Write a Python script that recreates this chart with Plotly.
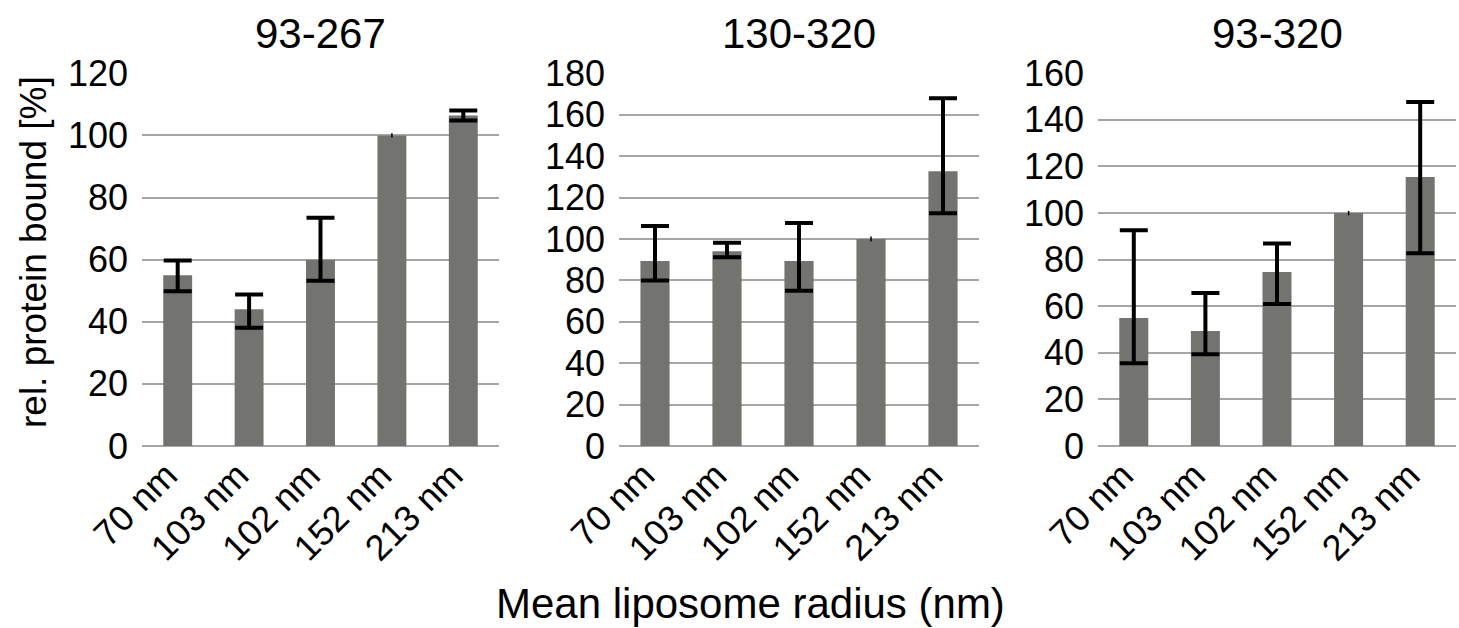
import plotly.graph_objects as go

W, H = 1459, 628

categories = ["70 nm", "103 nm", "102 nm", "152 nm", "213 nm"]
titles = ["93-267", "130-320", "93-320"]

vals_93_267 = [55, 44, 60, 100, 106.4]
errp_93_267 = [4.7, 4.8, 13.5, 0.7, 1.6]
errm_93_267 = [5.2, 5.9, 6.8, 0.7, 1.6]

vals_130_320 = [89.4, 94, 89.4, 100, 132.7]
errp_130_320 = [16.9, 4.2, 18.3, 1.2, 35.2]
errm_130_320 = [9.5, 2.9, 14.4, 1.2, 20.3]

vals_93_320 = [55, 49.4, 74.7, 100, 115.5]
errp_93_320 = [37.6, 16.3, 12.2, 0.9, 32.2]
errm_93_320 = [19.5, 10.0, 13.7, 0.9, 32.8]

y_max = [120, 180, 160]
ref_index = 3  # reference bar (100 %)

panels = [
    (vals_93_267, errp_93_267, errm_93_267),
    (vals_130_320, errp_130_320, errm_130_320),
    (vals_93_320, errp_93_320, errm_93_320),
]

# layout geometry (pixels)
x_dom_px = [(142, 499), (619, 979), (1098, 1456)]
y_top_px, y_bot_px = 73.3, 446

BAR = "#737370"
GRID = "#a6a6a6"
FONT = "Liberation Sans, Arial, sans-serif"
TICK = 36

fig = go.Figure()
for i, (vals, ep, em) in enumerate(panels):
    xa = "x" if i == 0 else f"x{i+1}"
    ya = "y" if i == 0 else f"y{i+1}"
    fig.add_trace(go.Bar(x=categories, y=vals, marker_color=BAR, marker_line_width=0,
                         xaxis=xa, yaxis=ya, showlegend=False, hoverinfo="skip"))
    idx = [k for k in range(len(categories)) if k != ref_index]
    fig.add_trace(go.Scatter(
        x=[categories[k] for k in idx], y=[vals[k] for k in idx], mode="markers",
        marker=dict(opacity=0, size=1), xaxis=xa, yaxis=ya, showlegend=False, hoverinfo="skip",
        error_y=dict(type="data", symmetric=False, array=[ep[k] for k in idx],
                     arrayminus=[em[k] for k in idx], color="black", thickness=4, width=14)))
    fig.add_trace(go.Scatter(
        x=[categories[ref_index]], y=[vals[ref_index]], mode="markers",
        marker=dict(opacity=0, size=1), xaxis=xa, yaxis=ya, showlegend=False, hoverinfo="skip",
        error_y=dict(type="data", symmetric=False, array=[ep[ref_index]],
                     arrayminus=[em[ref_index]], color="black", thickness=1.5, width=0)))

layout = dict(
    width=W, height=H, margin=dict(l=0, r=0, t=0, b=0, autoexpand=False),
    paper_bgcolor="white", plot_bgcolor="white",
    barmode="overlay", bargap=0.595,
    font=dict(family=FONT, color="black", size=TICK),
    showlegend=False,
)
ydom = [1 - y_bot_px / H, 1 - y_top_px / H]
annotations = []
for i in range(3):
    sfx = "" if i == 0 else str(i + 1)
    x0, x1 = x_dom_px[i]
    layout["xaxis" + sfx] = dict(
        domain=[x0 / W, x1 / W], anchor="y" + sfx, type="category", automargin=False,
        showgrid=False, zeroline=False, showline=False, ticks="",
        tickangle=-45, ticklabelshift=-11, tickfont=dict(size=TICK, family=FONT, color="black"),
        fixedrange=True,
    )
    layout["yaxis" + sfx] = dict(
        domain=ydom, anchor="x" + sfx, range=[0, y_max[i]], dtick=20, automargin=False,
        showgrid=True, gridcolor=GRID, gridwidth=2, zeroline=True, zerolinecolor=GRID,
        zerolinewidth=2, showline=False, ticks="", ticklabelstandoff=13,
        tickfont=dict(size=TICK, family=FONT, color="black"), fixedrange=True,
    )
    annotations.append(dict(
        text=titles[i], xref="paper", yref="paper", x=(x0 + x1) / 2 / W, y=1 - 33 / H,
        xanchor="center", yanchor="middle", showarrow=False,
        font=dict(size=42, family=FONT, color="black")))

annotations.append(dict(
    text="rel. protein bound [%]", xref="paper", yref="paper", x=33 / W, y=1 - 252 / H,
    xanchor="center", yanchor="middle", textangle=-90, showarrow=False,
    font=dict(size=37, family=FONT, color="black")))
annotations.append(dict(
    text="Mean liposome radius (nm)", xref="paper", yref="paper", x=751 / W, y=1 - 603 / H,
    xanchor="center", yanchor="middle", showarrow=False,
    font=dict(size=42, family=FONT, color="black")))
layout["annotations"] = annotations

fig.update_layout(**layout)
fig.write_html("out.html")
